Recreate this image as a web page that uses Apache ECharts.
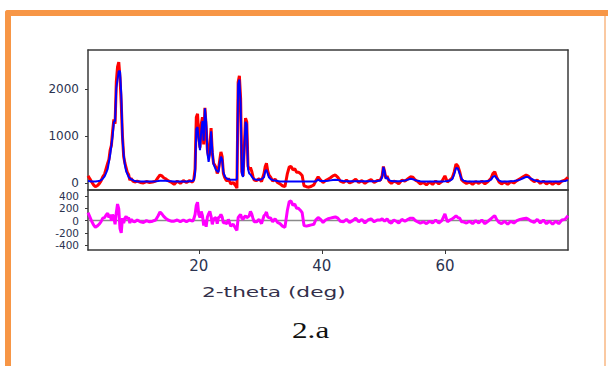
<!DOCTYPE html>
<html>
<head>
<meta charset="utf-8">
<script src="https://cdn.jsdelivr.net/npm/echarts@6/dist/echarts.min.js"></script>
<style>
  html, body { margin: 0; padding: 0; background: #fff; }
  #chart { width: 608px; height: 366px; }
</style>
</head>
<body>
<div id="chart"></div>
<script>
// 2-theta positions (deg)
var theta = [
  2.0, 2.3, 2.6, 2.9, 3.2, 3.5, 3.8, 4.1, 4.4, 4.7, 5.0, 5.2, 5.4, 5.6, 5.8,
  6.0, 6.2, 6.4, 6.6, 6.8, 7.0, 7.2, 7.4, 7.6, 7.8, 8.0, 8.2, 8.4, 8.6, 8.8,
  9.0, 9.3, 9.6, 10.0, 10.5, 11.0, 11.5, 12.0, 12.5, 13.0, 13.4, 13.7, 14.0, 14.3, 14.6,
  15.0, 15.5, 16.0, 16.5, 17.0, 17.5, 18.0, 18.5, 19.0, 19.2, 19.4, 19.6, 19.8, 20.0, 20.2,
  20.4, 20.6, 20.8, 21.0, 21.2, 21.4, 21.6, 21.8, 22.0, 22.2, 22.4, 22.6, 22.8, 23.0, 23.2,
  23.4, 23.6, 23.8, 24.0, 24.2, 24.4, 24.6, 24.8, 25.2, 25.6, 26.0, 26.2, 26.4, 26.6, 26.8,
  27.0, 27.2, 27.4, 27.6, 27.8, 28.0, 28.2, 28.4, 28.6, 28.8, 29.0, 29.4, 29.8, 30.2, 30.6,
  30.8, 31.0, 31.2, 31.4, 31.7, 32.0, 32.4, 32.8, 33.2, 33.6, 34.0, 34.4, 34.7, 35.0, 35.3,
  35.6, 35.9, 36.2, 36.5, 36.8, 37.1, 37.5, 37.9, 38.3, 38.7, 39.0, 39.4, 39.8, 40.2, 40.6,
  41.0, 41.4, 41.8, 42.2, 42.6, 43.0, 43.5, 44.0, 44.5, 45.0, 45.5, 46.0, 46.5, 47.0, 47.5,
  48.0, 48.5, 49.0, 49.5, 49.8, 50.0, 50.2, 50.4, 50.6, 50.9, 51.3, 51.7, 52.1, 52.5, 53.0,
  53.5, 54.0, 54.4, 54.8, 55.2, 55.6, 56.0, 56.5, 57.0, 57.5, 58.0, 58.5, 59.0, 59.5, 60.0,
  60.4, 60.8, 61.2, 61.5, 61.8, 62.1, 62.4, 62.7, 63.0, 63.5, 64.0, 64.5, 65.0, 65.5, 66.0,
  66.5, 67.0, 67.5, 67.8, 68.1, 68.4, 68.8, 69.2, 69.7, 70.2, 70.7, 71.2, 71.7, 72.2, 72.7,
  73.2, 73.6, 74.0, 74.5, 75.0, 75.5, 76.0, 76.5, 77.0, 77.5, 78.0, 78.5, 79.0, 79.5, 80.0
];

// calculated profile (blue)
var calc = [
  40, 35, 30, 30, 30, 35, 40, 60, 90, 140, 230, 300, 450, 600, 800,
  1000, 1300, 1320, 2020, 2200, 2380, 2380, 1900, 960, 600, 380, 250, 190, 130, 100,
  80, 60, 40, 30, 30, 30, 30, 30, 30, 35, 40, 45, 45, 45, 45,
  40, 35, 30, 30, 30, 30, 30, 35, 40, 60, 200, 1150, 1190, 900, 700,
  1100, 1320, 900, 1590, 1300, 640, 450, 600, 1100, 700, 400, 340, 280, 250, 230,
  420, 560, 500, 240, 150, 110, 90, 80, 70, 70, 70, 80, 2100, 2200, 1700,
  200, 130, 700, 1300, 1250, 300, 200, 180, 140, 100, 80, 70, 70, 80, 120,
  250, 280, 200, 120, 80, 60, 50, 40, 30, 30, 30, 30, 30, 30, 30,
  30, 30, 30, 30, 30, 30, 30, 30, 30, 30, 30, 70, 40, 40, 40,
  45, 55, 65, 70, 65, 50, 40, 35, 35, 35, 35, 35, 35, 35, 35,
  35, 35, 40, 50, 120, 340, 250, 90, 120, 60, 40, 35, 35, 35, 40,
  50, 70, 90, 80, 60, 45, 35, 30, 30, 30, 30, 30, 30, 30, 35,
  40, 50, 80, 180, 320, 310, 200, 90, 50, 35, 30, 30, 30, 30, 30,
  35, 40, 70, 130, 150, 100, 50, 30, 30, 30, 35, 40, 50, 70, 100,
  130, 120, 90, 60, 40, 30, 30, 30, 30, 30, 30, 30, 35, 40, 60
];

// observed intensity (red)
var obs = [
  150, 90, 20, -40, -80, -60, -20, 40, 130, 190, 330, 420, 500, 700, 800,
  1100, 1350, 1260, 2150, 2470, 2570, 2250, 1700, 1000, 560, 420, 320, 220, 180, 60,
  100, 40, 20, 40, 10, 0, 30, 10, 20, 40, 120, 170, 150, 110, 90,
  50, 20, -30, 40, -10, 50, 10, 50, 20, 80, 300, 1400, 1470, 1000, 750,
  1250, 1400, 820, 1600, 1200, 700, 560, 750, 1170, 640, 420, 380, 330, 200, 280,
  480, 660, 560, 200, 120, 70, 40, 100, -20, 10, -60, -110, 2150, 2280, 1800,
  240, 150, 760, 1380, 1300, 360, 280, 330, 250, 140, 60, 50, 90, 30, 200,
  350, 420, 260, 170, 120, 40, 80, 10, -20, -60, -80, 200, 340, 350, 280,
  300, 230, 230, 200, 160, -60, -80, -90, -70, -40, 40, 130, 60, 10, 50,
  80, 110, 150, 170, 120, 40, 10, 60, 0, 30, 80, 10, 50, -10, 40,
  70, 10, 50, 60, 150, 350, 240, 100, 150, 40, -10, 40, 20, -20, 60,
  40, 90, 130, 120, 60, 30, -20, 10, -40, 20, -30, 40, -20, 30, 150,
  20, 60, 110, 230, 400, 360, 240, 70, 30, -10, 20, -30, 30, -10, 40,
  -20, 30, 100, 200, 240, 120, 20, -20, 20, -30, 30, 0, 50, 90, 130,
  170, 140, 80, 30, 60, -10, 40, -20, 20, -30, 20, -20, 40, 60, 120
];

// difference curve (magenta)
var diff = [
  130, 60, -10, -70, -110, -90, -60, -20, 40, 50, 100, 120, 50, 100, 0,
  100, 50, -60, 130, 270, 190, -130, -200, 40, -40, 40, 70, 30, 50, -40,
  20, -10, -20, 10, -20, -30, 0, -20, -10, 10, 80, 140, 110, 70, 40,
  10, -10, -10, 10, -20, 10, -20, 10, -10, 30, 100, 250, 300, 100, 50,
  150, 80, -80, 10, -100, 60, 110, 150, 70, -60, 20, 40, 50, -50, 50,
  60, 100, 60, -40, -30, -40, -50, 20, -90, -60, -130, -160, 50, 80, 100,
  40, 20, 60, 80, 50, 60, 80, 150, 110, 40, -20, -20, 20, -50, 80,
  100, 140, 60, 50, 40, -20, 30, -30, -50, -90, -110, 170, 310, 320, 250,
  270, 200, 200, 170, 130, -80, -90, -80, -70, -60, 10, 50, 20, -30, 10,
  30, 40, 50, 60, 40, -10, -20, 20, -30, 0, 40, -20, 20, -40, 10,
  30, -20, 10, 10, 30, 10, -10, 10, 30, -20, -40, 10, -10, -40, 20,
  -10, 20, 40, 40, 0, -20, -40, -20, -50, -10, -40, 10, -40, 0, 110,
  -20, 10, 30, 50, 80, 50, 40, -20, -20, -40, -10, -50, 0, -40, 10,
  -50, -10, 30, 60, 80, 20, -30, -50, -10, -60, -10, -40, 0, 20, 30,
  40, 20, -10, -30, 20, -40, 10, -50, -10, -60, -10, -50, 10, 20, 80
];

var xTicks = [20, 40, 60];
var yTicksTop = [0, 1000, 2000];
var yTicksBottom = [-400, -200, 0, 200, 400];

var labelColor = '#2b3350';
var fontFam = 'DejaVu Sans';
var frameColor = '#3a3a3a';

function pairs(ys) {
  return theta.map(function (t, i) { return [t, ys[i]]; });
}

function plain(v) { return String(v); }

// one axis per side so each panel gets a closed frame
function frameAxis(dim, gridIndex, pos, min, max, ticks, fontSize) {
  var hasLabels = !!ticks;
  return {
    gridIndex: gridIndex, type: 'value', position: pos, min: min, max: max,
    axisLine: { show: true, onZero: false, lineStyle: { color: frameColor, width: 1.5 } },
    axisTick: hasLabels
      ? { show: true, customValues: ticks, length: dim === 'x' ? 4 : 3, lineStyle: { color: frameColor, width: 1 } }
      : { show: false },
    axisLabel: hasLabels
      ? { customValues: ticks, formatter: plain, fontSize: fontSize, lineHeight: fontSize, fontFamily: fontFam, color: labelColor, margin: dim === 'x' ? 8 : 9 }
      : { show: false },
    splitLine: { show: false }
  };
}

var chart = echarts.init(document.getElementById('chart'), null, { renderer: 'svg' });

chart.setOption({
  animation: false,
  backgroundColor: '#fff',
  grid: [
    { left: 88, top: 50, width: 480, height: 140 },
    { left: 88, top: 190, width: 480, height: 60 }
  ],
  xAxis: [
    frameAxis('x', 0, 'bottom', 2, 80, null),
    frameAxis('x', 0, 'top', 2, 80, null),
    frameAxis('x', 1, 'bottom', 2, 80, xTicks, 15),
    frameAxis('x', 1, 'top', 2, 80, null)
  ],
  yAxis: [
    frameAxis('y', 0, 'left', -150, 2830, yTicksTop, 12),
    frameAxis('y', 0, 'right', -150, 2830, null),
    frameAxis('y', 1, 'left', -480, 500, yTicksBottom, 10.5),
    frameAxis('y', 1, 'right', -480, 500, null)
  ],
  graphic: [
    {
      type: 'rect', silent: true,
      shape: { x: 5, y: 10, width: 603, height: 6, r: [3, 0, 0, 0] },
      style: { fill: '#f79646' }
    },
    {
      type: 'rect', silent: true,
      shape: { x: 5, y: 10, width: 6, height: 356, r: [3, 0, 0, 0] },
      style: { fill: '#f79646' }
    },
    {
      type: 'rect', silent: true,
      shape: { x: 604, y: 16, width: 2, height: 350 },
      style: { fill: '#fac9a2' }
    },
    {
      type: 'text', silent: true, x: 202, y: 285, scaleX: 1.55,
      style: { text: '2-theta (deg)', fontSize: 14, fontFamily: fontFam, fill: '#33304a', verticalAlign: 'top' }
    },
    {
      type: 'text', silent: true, x: 292, y: 330, scaleX: 1.3,
      style: { text: '2.a', fontSize: 24, fontFamily: 'Liberation Serif', fill: '#111', verticalAlign: 'middle' }
    }
  ],
  series: [
    {
      name: 'obs', type: 'line', xAxisIndex: 0, yAxisIndex: 0,
      data: pairs(obs), showSymbol: false, symbol: 'none',
      lineStyle: { color: '#ff0000', width: 3 }, z: 2
    },
    {
      name: 'calc', type: 'line', xAxisIndex: 0, yAxisIndex: 0,
      data: pairs(calc), showSymbol: false, symbol: 'none',
      lineStyle: { color: '#0000ff', width: 2 }, z: 3
    },
    {
      name: 'zero', type: 'line', xAxisIndex: 2, yAxisIndex: 2,
      data: [[theta[0], 0], [theta[theta.length - 1], 0]], symbol: 'none',
      lineStyle: { color: '#8a8a8a', width: 1.5 }, z: 2
    },
    {
      name: 'diff', type: 'line', xAxisIndex: 2, yAxisIndex: 2,
      data: pairs(diff), showSymbol: false, symbol: 'none',
      lineStyle: { color: '#ff00ff', width: 3 }, z: 3
    }
  ]
});
</script>
</body>
</html>
